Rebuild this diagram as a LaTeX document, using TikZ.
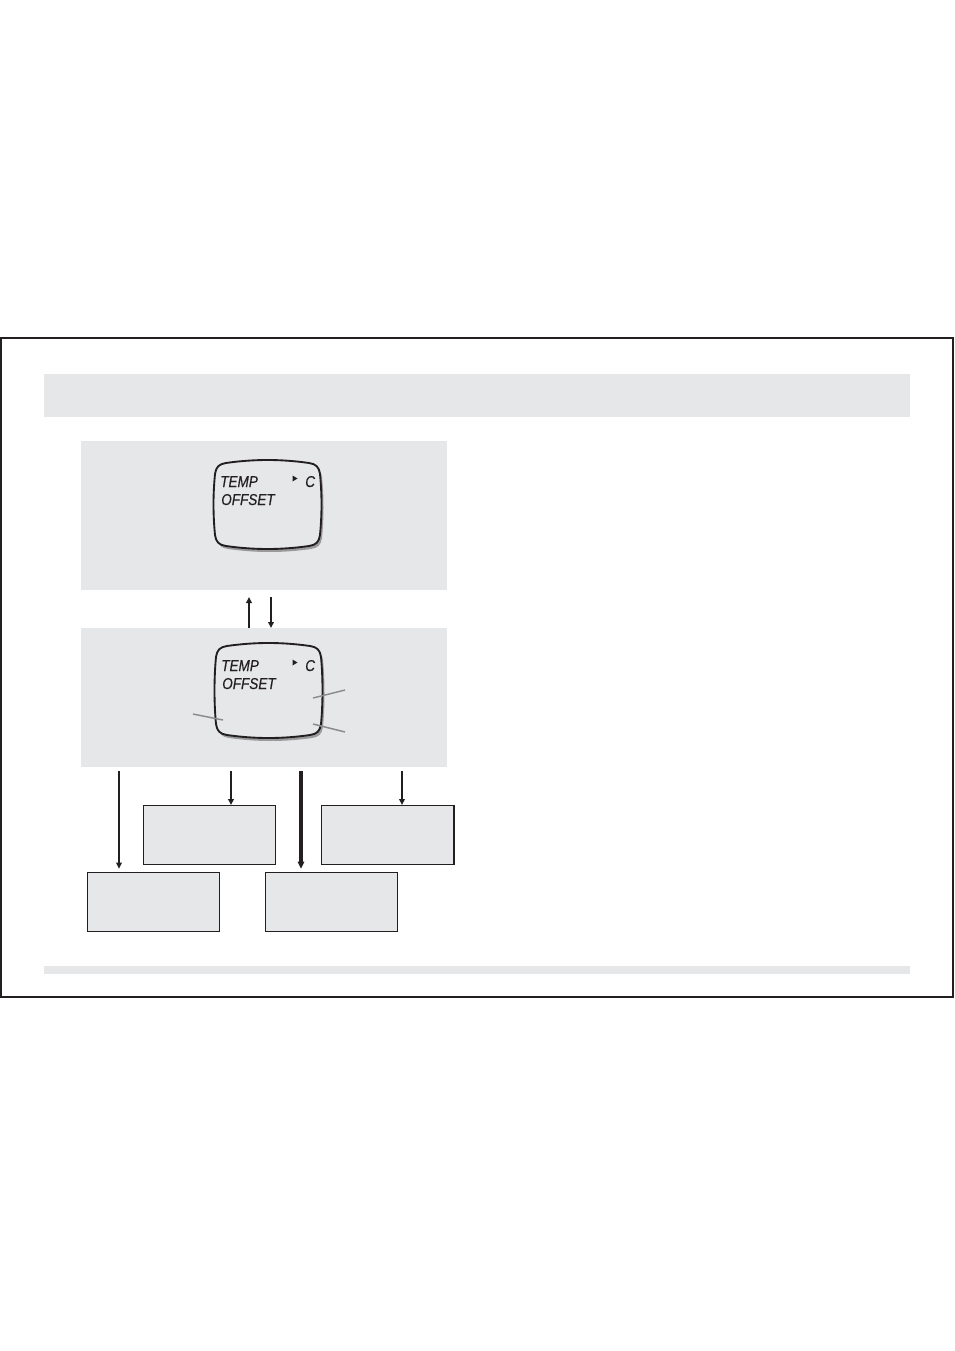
\documentclass[tikz,border=0pt]{standalone}
\usepackage{fontspec}
\usetikzlibrary{arrows.meta}
\newfontfamily\lcdfont{Liberation Sans}[FakeStretch=0.86,FakeBold=0.5]
\definecolor{panelgray}{HTML}{E6E7E8}
\definecolor{inkdark}{HTML}{231F20}
\definecolor{shadowgray}{HTML}{9A9A9A}
\definecolor{calloutgray}{HTML}{8C8C8C}
\newcommand{\lcdshape}[1]{% #1 = height
  (12,3) .. controls (40,-1) and (67,-1) .. (95,3)
  .. controls (102,4) and (105,7) .. (106,14)
  .. controls (108,35) and (108,#1-35) .. (106,#1-14)
  .. controls (105,#1-7) and (102,#1-4) .. (95,#1-3)
  .. controls (67,#1+1) and (40,#1+1) .. (12,#1-3)
  .. controls (5,#1-4) and (2,#1-7) .. (1,#1-14)
  .. controls (-1,#1-35) and (-1,35) .. (1,14)
  .. controls (2,7) and (5,4) .. (12,3) -- cycle}
\tikzset{
  band/.style={fill=panelgray, draw=none, inner sep=0pt, anchor=north west},
  panel/.style={fill=panelgray, draw=none, inner sep=0pt, anchor=north west, minimum width=274.5pt},
  lowbox/.style={fill=panelgray, draw=inkdark, line width=1pt, inner sep=0pt, anchor=north west, minimum width=99pt, minimum height=44.25pt},
  arr/.style={draw=inkdark, line width=1.5pt, -{Triangle[length=4.5pt,width=4.2pt]}},
  arrthick/.style={draw=inkdark, line width=2.3pt, -{Triangle[length=5.25pt,width=4.8pt]}},
  lcdtext/.style={inner sep=0pt, anchor=base west, font=\lcdfont\itshape\fontsize{11.8}{12}\selectfont, text=inkdark},
  callout/.style={draw=calloutgray, line width=1.1pt},
  lcdbody/.style={fill=panelgray, draw=inkdark, line width=1.4pt},
  lcdshadow/.style={fill=shadowgray, draw=none}
}
\begin{document}
\begin{tikzpicture}[x=0.75pt, y=-0.75pt]
\useasboundingbox (0,0) rectangle (954,1351);
\fill[white] (0,0) rectangle (954,1351);
% outer frame
\draw[inkdark, line width=1.1pt] (1,338) rectangle (953,997);
% bands
\node[band, minimum width=649.5pt, minimum height=32.25pt] (header) at (44,374) {};
\node[band, minimum width=649.5pt, minimum height=6pt] (footer) at (44,966) {};
% panels
\node[panel, minimum height=111.75pt] (panel1) at (81,441) {};
\node[panel, minimum height=104.25pt] (panel2) at (81,628) {};
% LCD 1
\begin{scope}[shift={(214,460)}]
  \fill[lcdshadow, shift={(2,3)}] \lcdshape{89};
  \draw[lcdbody] \lcdshape{89};
\end{scope}
\node[lcdtext] (temp1) at (220,487) {TEMP};
\node[lcdtext] (offset1) at (221,505) {OFFSET};
\node[lcdtext] (c1) at (305,487) {C};
\fill[inkdark] (292.5,475.5) -- (297.5,478.5) -- (292.5,481.5) -- cycle;
% LCD 2
\begin{scope}[shift={(215,643)}]
  \fill[lcdshadow, shift={(2,3)}] \lcdshape{95};
  \draw[lcdbody] \lcdshape{95};
\end{scope}
\node[lcdtext] (temp2) at (221,671) {TEMP};
\node[lcdtext] (offset2) at (222,689) {OFFSET};
\node[lcdtext] (c2) at (305,671) {C};
\fill[inkdark] (292.5,659.5) -- (297.5,662.5) -- (292.5,665.5) -- cycle;
% callout lines
\coordinate (cl1a) at (193,714); \coordinate (cl1b) at (223,720);
\coordinate (cl2a) at (313,698); \coordinate (cl2b) at (345,690);
\coordinate (cl3a) at (313,724); \coordinate (cl3b) at (345,732);
\draw[callout] (cl1a) -- (cl1b);
\draw[callout] (cl2a) -- (cl2b);
\draw[callout] (cl3a) -- (cl3b);
% arrows between panels
\coordinate (upx) at (249,0);
\coordinate (dnx) at (271,0);
\coordinate (uptip) at (249,597);
\coordinate (dntop) at (271,597);
\draw[arr] (panel2.north -| upx) -- (uptip);
\draw[arr] (dntop) -- (panel2.north -| dnx);
% lower boxes
\node[lowbox] (boxA) at (143,805) {};
\node[lowbox] (boxB) at (321,805) {};
\node[lowbox] (boxC) at (87,872) {};
\node[lowbox] (boxD) at (265,872) {};
\draw[inkdark, line width=1.6pt] (boxB.north east) -- (boxB.south east);
% arrows to boxes
\coordinate (a1) at (119,771);
\coordinate (a2) at (231,771);
\coordinate (a3) at (301,771);
\coordinate (a4) at (402,771);
\draw[arr, shorten >=2.5pt] (a1) -- (boxC.north -| a1);
\draw[arr] (a2) -- (boxA.north -| a2);
\draw[arrthick, shorten >=2.5pt] (a3) -- (boxD.north -| a3);
\draw[arr] (a4) -- (boxB.north -| a4);
\end{tikzpicture}
\end{document}
